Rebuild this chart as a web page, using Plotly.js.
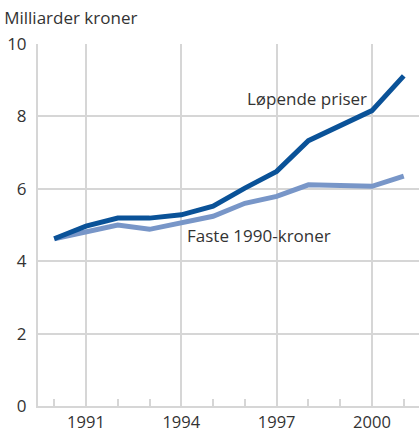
<!DOCTYPE html>
<html>
<head>
<meta charset="utf-8">
<script src="https://cdn.plot.ly/plotly-3.0.1.min.js"></script>
<style>html,body{margin:0;padding:0;background:#fff;}#chart{width:419px;height:433px;}</style>
</head>
<body>
<div id="chart"></div>
<script>
const years = [1990,1991,1992,1993,1994,1995,1996,1997,1998,1999,2000,2001];
const lopendePriser = [4.62,4.97,5.19,5.19,5.28,5.52,6.02,6.48,7.33,7.75,8.16,9.12];
const faste1990 = [4.62,4.81,5.00,4.88,5.05,5.24,5.60,5.79,6.11,6.08,6.07,6.35];
const seriesNames = ["Løpende priser","Faste 1990-kroner"];
const yTicks = [0,2,4,6,8,10];
const xTicks = [1991,1994,1997,2000];

const font = "Open Sans, Noto Sans, sans-serif";
const traces = [
  {x: years, y: faste1990, type: "scatter", mode: "lines", name: seriesNames[1],
   line: {color: "#7896c8", width: 5}},
  {x: years, y: lopendePriser, type: "scatter", mode: "lines", name: seriesNames[0],
   line: {color: "#0a5298", width: 5}}
];
const layout = {
  width: 419, height: 433,
  margin: {l: 38, r: 0, t: 44, b: 27},
  paper_bgcolor: "#fff", plot_bgcolor: "#fff",
  showlegend: false,
  font: {family: font, size: 17, color: "#333"},
  title: {text: "Milliarder kroner", x: 0.01, xanchor: "left", xref: "container",
          y: 0.958, yanchor: "middle", yref: "container",
          font: {family: font, size: 17, color: "#333"}},
  xaxis: {range: [1989.49, 2001.48], tickvals: xTicks, ticktext: xTicks.map(String),
          showgrid: true, gridcolor: "#d6d6d6", gridwidth: 2,
          showline: true, linecolor: "#d6d6d6", linewidth: 2,
          ticks: "", zeroline: false, ticklabelstandoff: 0,
          minor: {dtick: 1, tick0: 1990, ticks: "inside", ticklen: 7, tickwidth: 2,
                  tickcolor: "#d6d6d6", showgrid: false},
          tickfont: {family: font, size: 16.5, color: "#333"}},
  yaxis: {range: [0, 10], tickvals: yTicks, ticktext: yTicks.map(String),
          showgrid: true, gridcolor: "#d6d6d6", gridwidth: 2,
          showline: true, linecolor: "#d6d6d6", linewidth: 2,
          ticks: "", zeroline: false, ticklabelstandoff: 6,
          tickfont: {family: font, size: 17, color: "#333"}},
  annotations: [
    {x: 1997.97, y: 8.49, xref: "x", yref: "y", text: seriesNames[0], showarrow: false,
     font: {family: font, size: 17, color: "#333"}},
    {x: 1996.43, y: 4.70, xref: "x", yref: "y", text: seriesNames[1], showarrow: false,
     font: {family: font, size: 17, color: "#333"}}
  ]
};
Plotly.newPlot("chart", traces, layout, {displayModeBar: false, staticPlot: true});
</script>
</body>
</html>
